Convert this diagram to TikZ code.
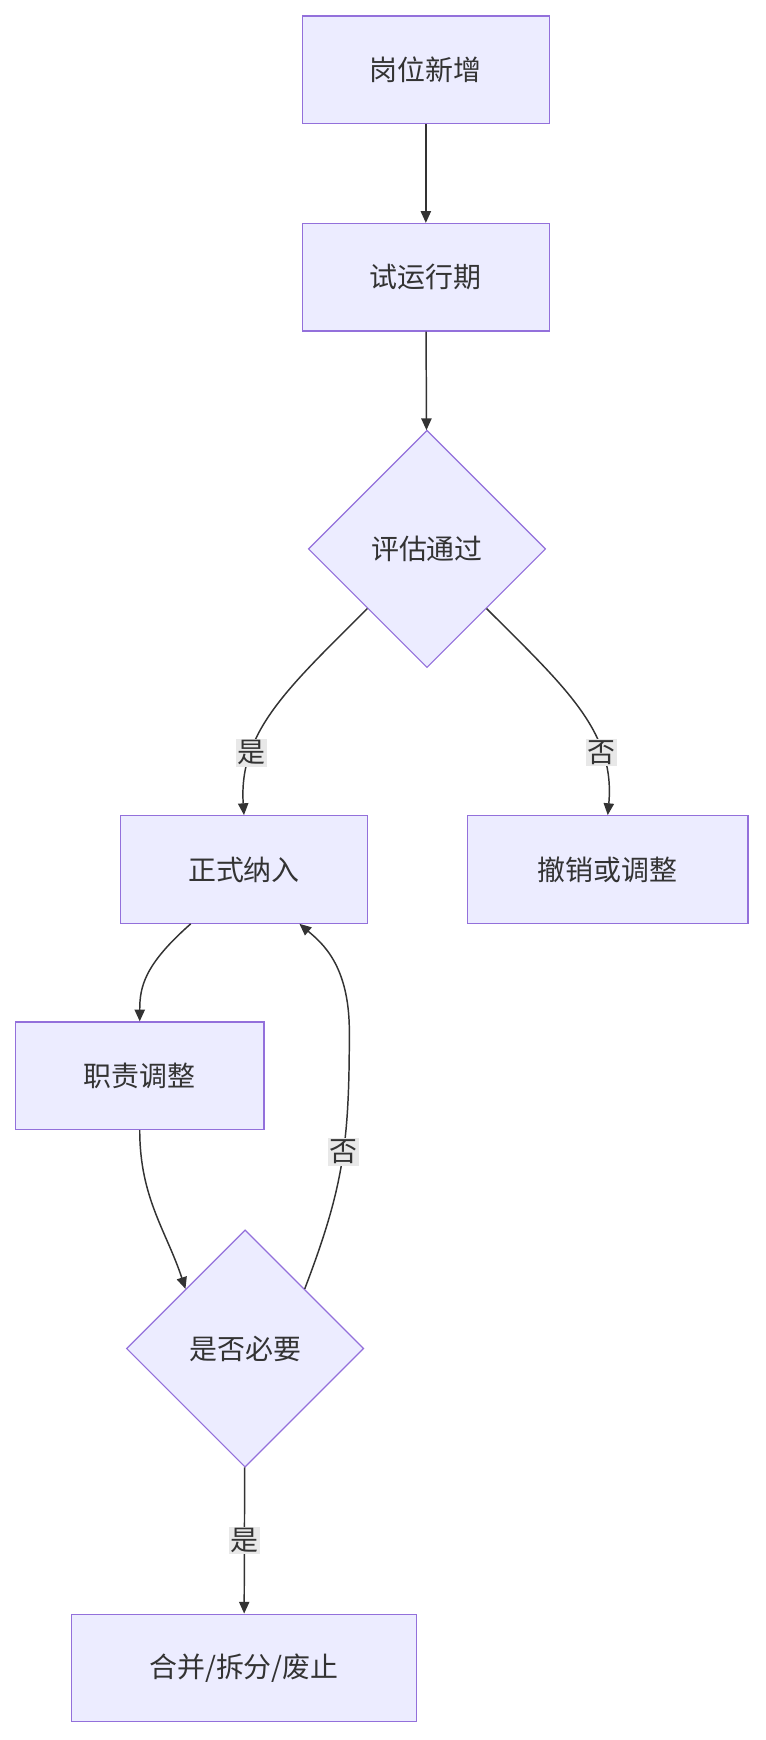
\documentclass[tikz,border=0pt]{standalone}
\usepackage{fontspec}
\setmainfont{Noto Sans CJK SC}
\usetikzlibrary{shapes.geometric,arrows.meta}
\definecolor{boxfill}{HTML}{ECECFF}
\definecolor{boxline}{HTML}{9370DB}
\definecolor{edgeline}{HTML}{333333}
\definecolor{labelbg}{HTML}{E8E8E8}
\tikzset{>=Triangle}

\begin{document}
\begin{tikzpicture}[x=0.0265cm,y=-0.0265cm]
	\tikzset{stage/.style = {rectangle,draw=boxline,fill=boxfill,line width=0.8pt,minimum height=97*0.0265cm,font=\fontsize{19}{23}\selectfont,text=edgeline}}
	\tikzset{check/.style = {diamond,draw=boxline,fill=boxfill,line width=0.8pt,minimum width=214*0.0265cm,minimum height=214*0.0265cm,inner sep=0pt,font=\fontsize{19}{23}\selectfont,text=edgeline}}
	\tikzset{edge/.style = {->,draw=edgeline,line width=1pt,>={Triangle[length=8pt,width=7pt]}}}
	\tikzset{tag/.style = {fill=labelbg,inner sep=1pt,font=\fontsize{19}{23}\selectfont,text=edgeline}}

	\useasboundingbox (0,0) rectangle (690,1569);

	\node[stage,minimum width=223*0.0265cm] (add) at (384,63) {岗位新增};
	\node[stage,minimum width=223*0.0265cm] (trial) at (384,250) {试运行期};
	\node[check] (eval) at (385,495) {评估通过};
	\node[stage,minimum width=223*0.0265cm] (formal) at (220,784) {正式纳入};
	\node[stage,minimum width=253*0.0265cm] (revoke) at (548,784) {撤销或调整};
	\node[stage,minimum width=224*0.0265cm] (adjust) at (126,970) {职责调整};
	\node[check] (need) at (221,1216) {是否必要};
	\node[stage,minimum width=311*0.0265cm] (merge) at (220,1504) {合并/拆分/废止};

	\draw[edge] (add) -- (trial);
	\draw[edge] (trial) -- (eval);
	\draw[edge] (eval.south west) .. controls (260,620) and (215,660) .. node[tag,pos=0.72] {是} (formal.north);
	\draw[edge] (eval.south east) .. controls (510,620) and (555,660) .. node[tag,pos=0.72] {否} (revoke.north);
	\draw[edge] ([xshift=-48*0.0265cm]formal.south) .. controls (130,870) and (126,890) .. (adjust.north);
	\draw[edge] (adjust.south) .. controls (126,1080) and (150,1110) .. (need.north west);
	\draw[edge] (need.north east) .. controls (310,1070) and (315,1030) .. node[tag,pos=0.55] {否} (315,930) .. controls (315,870) and (290,850) .. ([xshift=50*0.0265cm]formal.south);
	\draw[edge] (need) -- node[tag,pos=0.5] {是} (merge);
\end{tikzpicture}
\end{document}
